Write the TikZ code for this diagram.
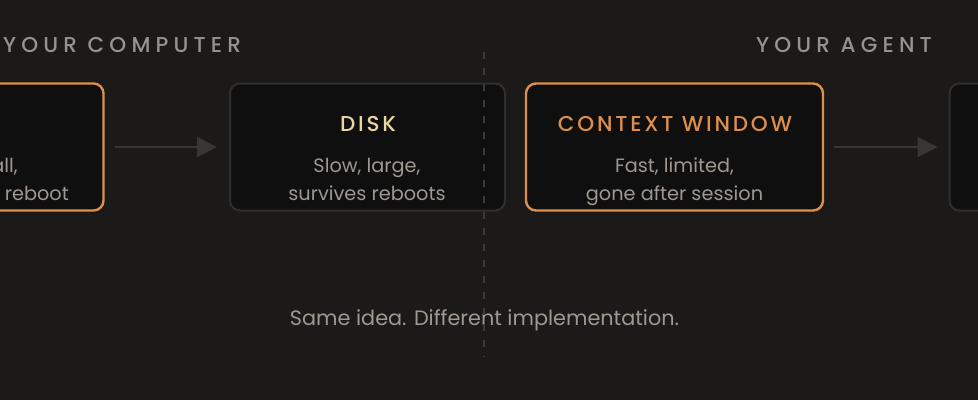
\documentclass[tikz,border=0pt]{standalone}
\usepackage{fontspec}
\setmainfont{Poppins}
\IfFontExistsTF{Poppins Medium}{\newfontfamily\medfont{Poppins Medium}}{\newfontfamily\medfont{Poppins}[FakeBold=0.4]}
\usetikzlibrary{arrows.meta}
\definecolor{bgc}{RGB}{27,26,25}
\definecolor{boxfill}{RGB}{15,15,15}
\definecolor{darkedge}{RGB}{48,47,45}
\definecolor{accent}{RGB}{222,143,76}
\definecolor{gold}{RGB}{234,214,160}
\definecolor{bodytxt}{RGB}{158,152,145}
\definecolor{headtxt}{RGB}{150,146,140}
\definecolor{arrowc}{RGB}{55,54,52}
\definecolor{dashc}{RGB}{60,58,55}
\tikzset{
  cardbox/.style={rounded corners=10bp, fill=boxfill, minimum width=275bp, minimum height=127bp, inner sep=0pt},
  hotbox/.style={cardbox, draw=accent, line width=2.4bp},
  coolbox/.style={cardbox, draw=darkedge, line width=2bp},
  titletxt/.style={inner sep=0pt, anchor=base, font=\medfont\fontsize{21.5bp}{24bp}\selectfont\addfontfeature{LetterSpace=13}},
  bodytext/.style={inner sep=0pt, anchor=base, text=bodytxt, font=\fontsize{19.3bp}{22bp}\selectfont},
  headtext/.style={inner sep=0pt, text=headtxt, font=\medfont\fontsize{21.5bp}{24bp}\selectfont\addfontfeature{LetterSpace=24}},
  flow/.style={draw=arrowc, line width=2bp, -{Triangle[length=20bp,width=20bp]}},
}
\begin{document}
\begin{tikzpicture}[x=1bp,y=-1bp]
\useasboundingbox (0,0) rectangle (978,400);
\fill[bgc] (0,0) rectangle (978,400);
\clip (0,0) rectangle (978,400);
% headers
\node[headtext, anchor=base west] (hcomp) at (3,52.5) {YOUR COMPUTER};
\node[headtext, anchor=base east] (hagent) at (932,52.5) {YOUR AGENT};
% boxes
\node[hotbox] (ram) at (-34,147) {};
\node[coolbox] (disk) at (367.5,147) {};
\node[hotbox, minimum width=297bp] (ctx) at (674.5,147) {};
\node[coolbox] (ext) at (1087,147) {};
% left box partial text
\node[bodytext, anchor=base east] (ram1) at (18,172) {all,};
\node[bodytext, anchor=base east] (ram2) at (69,200) {reboot};
% disk text
\node[titletxt, text=gold] (diskt) at (368,131.5) {DISK};
\node[bodytext] (disk1) at (367,172) {Slow, large,};
\node[bodytext] (disk2) at (367,200) {survives reboots};
% context text
\node[titletxt, text=accent] (ctxt) at (675,131.5) {CONTEXT WINDOW};
\node[bodytext] (ctx1) at (674.5,172) {Fast, limited,};
\node[bodytext] (ctx2) at (674.5,200) {gone after session};
% arrows
\draw[flow, shorten <=10bp, shorten >=12bp] (ram.east) -- (disk.west);
\draw[flow, shorten <=10bp, shorten >=11bp] (ctx.east) -- (ext.west);
% caption
\node[bodytext, font=\fontsize{20.8bp}{24bp}\selectfont] (cap) at (484.5,325.5) {Same idea. Different implementation.};
% divider
\coordinate (dtop) at (484,52);
\coordinate (dbot) at (484,357);
\draw[dashc, line width=1.5bp, dash pattern=on 7bp off 9bp] (dtop) -- (dbot);
\end{tikzpicture}
\end{document}
